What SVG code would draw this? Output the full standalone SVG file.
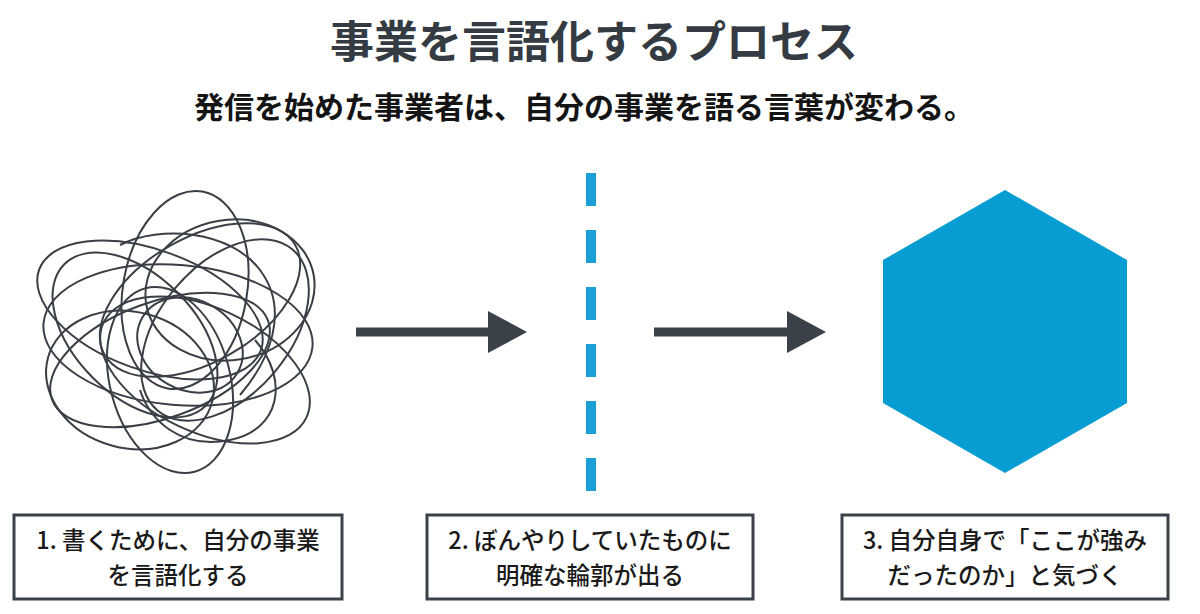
<svg xmlns="http://www.w3.org/2000/svg" width="1200" height="614" viewBox="0 0 1200 614">
<style>
.title{font-family:"Noto Sans CJK JP","Noto Sans",sans-serif;font-weight:700;fill:#343b42;text-anchor:middle}
.sub{font-family:"Noto Sans CJK JP","Noto Sans",sans-serif;font-weight:700;fill:#141414;text-anchor:middle}
.lbl{font-family:"Noto Sans CJK JP","Noto Sans",sans-serif;font-weight:500;font-size:23.5px;fill:#1a1a1a;text-anchor:middle}
.box{fill:#fff;stroke:#3a4148;stroke-width:3}
.scr{fill:none;stroke:#3a3f45;stroke-width:2}
.arrow{stroke:#3a4148;stroke-width:9;fill:none}
.head{fill:#3a4148}
</style>
<rect width="1200" height="614" fill="#fff"/>
<text class="title" x="594" y="58" font-size="44">事業を言語化するプロセス</text>
<text class="sub" x="584" y="118" font-size="30">発信を始めた事業者は、自分の事業を語る言葉が変わる。</text>

<g id="scribble">
<ellipse class="scr" cx="200" cy="300" rx="110" ry="62" transform="rotate(-30 200 300)"/>
<ellipse class="scr" cx="160" cy="360" rx="115" ry="58" transform="rotate(-20 160 360)"/>
<ellipse class="scr" cx="150" cy="310" rx="118" ry="60" transform="rotate(20 150 310)"/>
<ellipse class="scr" cx="205" cy="370" rx="112" ry="62" transform="rotate(25 205 370)"/>
<ellipse class="scr" cx="185" cy="290" rx="62" ry="100" transform="rotate(10 185 290)"/>
<ellipse class="scr" cx="170" cy="380" rx="60" ry="95" transform="rotate(-15 170 380)"/>
<ellipse class="scr" cx="225" cy="330" rx="65" ry="105" transform="rotate(40 225 330)"/>
<ellipse class="scr" cx="135" cy="335" rx="60" ry="100" transform="rotate(-45 135 335)"/>
<ellipse class="scr" cx="178" cy="335" rx="135" ry="70" transform="rotate(5 178 335)"/>
<ellipse class="scr" cx="230" cy="290" rx="85" ry="70" transform="rotate(-10 230 290)"/>
<ellipse class="scr" cx="130" cy="380" rx="85" ry="68" transform="rotate(15 130 380)"/>
<ellipse class="scr" cx="190" cy="345" rx="55" ry="45" transform="rotate(30 190 345)"/>
<path class="scr" d="M120 245 C160 225 230 230 260 270 C290 310 270 360 240 395"/>
<path class="scr" d="M255 340 C290 380 280 430 230 440 C180 450 150 420 140 390"/>
</g>

<g id="connectors">
<line class="arrow" x1="356" y1="332" x2="492" y2="332"/>
<polygon class="head" points="488,311 527,332 488,353"/>
<line class="arrow" x1="654" y1="332" x2="791" y2="332"/>
<polygon class="head" points="787,311 826,332 787,353"/>
</g>

<g id="divider">
<line x1="591" y1="173" x2="591" y2="491" stroke="#1a9fd6" stroke-width="10" stroke-dasharray="33 24"/>
</g>

<g id="hexagon">
<polygon points="1005,190 1127,260 1127,403 1005,473 883,403 883,260" fill="#079dd3"/>
</g>

<g id="box1">
<rect class="box" x="14" y="515" width="328" height="84"/>
<text class="lbl"><tspan x="178" y="549">1. 書くために、自分の事業</tspan><tspan x="178" y="584">を言語化する</tspan></text>
</g>
<g id="box2">
<rect class="box" x="427" y="515" width="326" height="84"/>
<text class="lbl"><tspan x="590" y="549">2. ぼんやりしていたものに</tspan><tspan x="590" y="584">明確な輪郭が出る</tspan></text>
</g>
<g id="box3">
<rect class="box" x="842" y="515" width="326" height="84"/>
<text class="lbl"><tspan x="1005" y="549">3. 自分自身で「ここが強み</tspan><tspan x="1005" y="584">だったのか」と気づく</tspan></text>
</g>
</svg>
